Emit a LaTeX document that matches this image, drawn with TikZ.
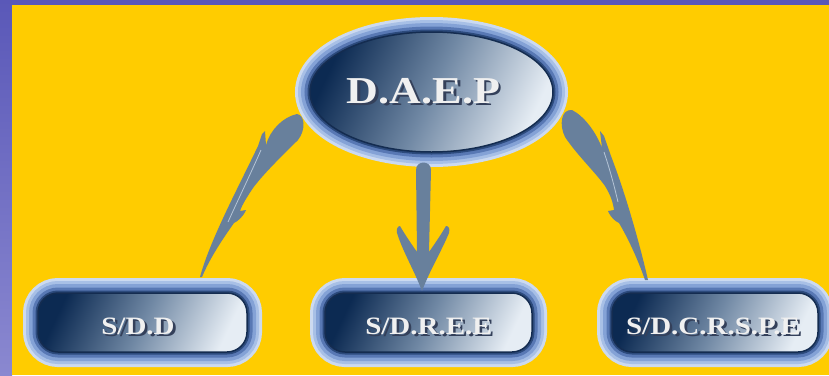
\documentclass[tikz,border=0pt]{standalone}
\usepackage{fontspec}
\setmainfont{Liberation Serif}
\usepackage{graphicx}
\usetikzlibrary{shapes.geometric}
\definecolor{bgyellow}{HTML}{FFCC00}
\definecolor{bordtop}{HTML}{5A58B8}
\definecolor{bordbot}{HTML}{8A88D0}
\definecolor{glowA}{HTML}{CCDAF0}
\definecolor{glowB}{HTML}{A8C0E6}
\definecolor{glowC}{HTML}{84A2D6}
\definecolor{glowE}{HTML}{5878B4}
\definecolor{glowD}{HTML}{2C4A7C}
\definecolor{navy}{HTML}{0C2A52}
\definecolor{midblue}{HTML}{7088A4}
\definecolor{pale}{HTML}{E6EDF4}
\definecolor{edgec}{HTML}{142C50}
\definecolor{quill}{HTML}{68809C}
\definecolor{quillhl}{HTML}{B4C4D6}
\definecolor{txtfill}{HTML}{F0F0F0}
\definecolor{txtshadow}{HTML}{34405A}
\newcommand{\shtxt}[1]{\scalebox{1.16}[1]{\makebox[0pt][l]{\kern2.2pt\raisebox{-2.2pt}{\textcolor{txtshadow}{#1}}}\textcolor{txtfill}{#1}}}
\tikzset{
  glowing/.style={
    preaction={draw=glowA, line width=30pt},
    preaction={draw=glowB, line width=24pt},
    preaction={draw=glowC, line width=18pt},
    preaction={draw=glowE, line width=11pt},
    preaction={draw=glowD, line width=5pt}},
  innerfill/.style={glowing, draw=edgec, line width=1.5pt,
    left color=navy, right color=pale, middle color=midblue, shading angle=65},
  ellnode/.style={innerfill, ellipse, minimum width=243pt, minimum height=120pt,
    inner sep=0pt, font=\fontsize{38}{44}\selectfont\bfseries},
  boxnode/.style={innerfill, rectangle, rounded corners=20pt, minimum height=59pt,
    inner sep=0pt, text height=26pt, text depth=1.5pt,
    font=\fontsize{25}{30}\selectfont\bfseries},
  quillfill/.style={fill=quill},
  quillline/.style={draw=quillhl, line width=0.8pt}
}
\begin{document}
\begin{tikzpicture}[x=1pt,y=-1pt]
\useasboundingbox (0,0) rectangle (829,375);
% background and border
\fill[bordtop] (0,0) rectangle (829,375);
\shade[top color=bordtop, bottom color=bordbot] (0,0) rectangle (12,375);
\fill[bgyellow] (12,5) rectangle (829,375);

% nodes
\node[ellnode] (daep) at (431.5,92) {\shtxt{D.A.E.P}\kern16pt};
\node[boxnode, minimum width=209pt] (sdd) at (142.5,322.5) {\shtxt{S/D.D}\kern9pt};
\node[boxnode, minimum width=207pt] (sdree) at (428.5,322.5) {\shtxt{S/D.R.E.E}};
\node[boxnode, minimum width=206pt] (sdcrspe) at (715,322.5) {\shtxt{S/D.C.R.S.P.E}\kern4pt};

% middle arrow: daep -> sdree
\fill[quillfill] (416,170) .. controls (416,160) and (431,160) .. (431,170)
  -- (429,252) .. controls (436,242) and (442,233) .. (446,226)
  .. controls (449,226) and (450,229) .. (449,233)
  .. controls (441,252) and (430,270) .. (422,291)
  .. controls (414,270) and (403,252) .. (397,233)
  .. controls (396,229) and (398,226) .. (400,226)
  .. controls (404,233) and (410,242) .. (417,252) -- cycle;

% left quill: daep -> sdd
\fill[quillfill] (200,277) .. controls (210,240) and (238,188) .. (258,146)
  -- (262,134) -- (265,131) -- (266,145)
  .. controls (270,130) and (283,117) .. (297,114)
  .. controls (305,115) and (306,130) .. (298,140)
  .. controls (285,153) and (265,172) .. (253,188)
  .. controls (247,197) and (242,205) .. (240,211) -- (246,210)
  .. controls (243,217) and (238,221) .. (234,223)
  .. controls (222,240) and (210,258) .. (202,277) -- cycle;
\draw[quillline] (261,150) .. controls (250,175) and (238,200) .. (228,222);

% right quill: daep -> sdcrspe
\fill[quillfill] (648,280) .. controls (640,245) and (626,195) .. (611,156)
  -- (604,136) -- (600,131) -- (602,148)
  .. controls (596,132) and (584,116) .. (572,110)
  .. controls (561,109) and (559,125) .. (565,137)
  .. controls (577,155) and (595,172) .. (605,186)
  .. controls (610,194) and (613,202) .. (614,210) -- (608,211)
  .. controls (611,218) and (615,221) .. (619,223)
  .. controls (629,240) and (638,260) .. (645,280) -- cycle;
\draw[quillline] (604,152) .. controls (610,170) and (614,185) .. (618,202);
\end{tikzpicture}
\end{document}
